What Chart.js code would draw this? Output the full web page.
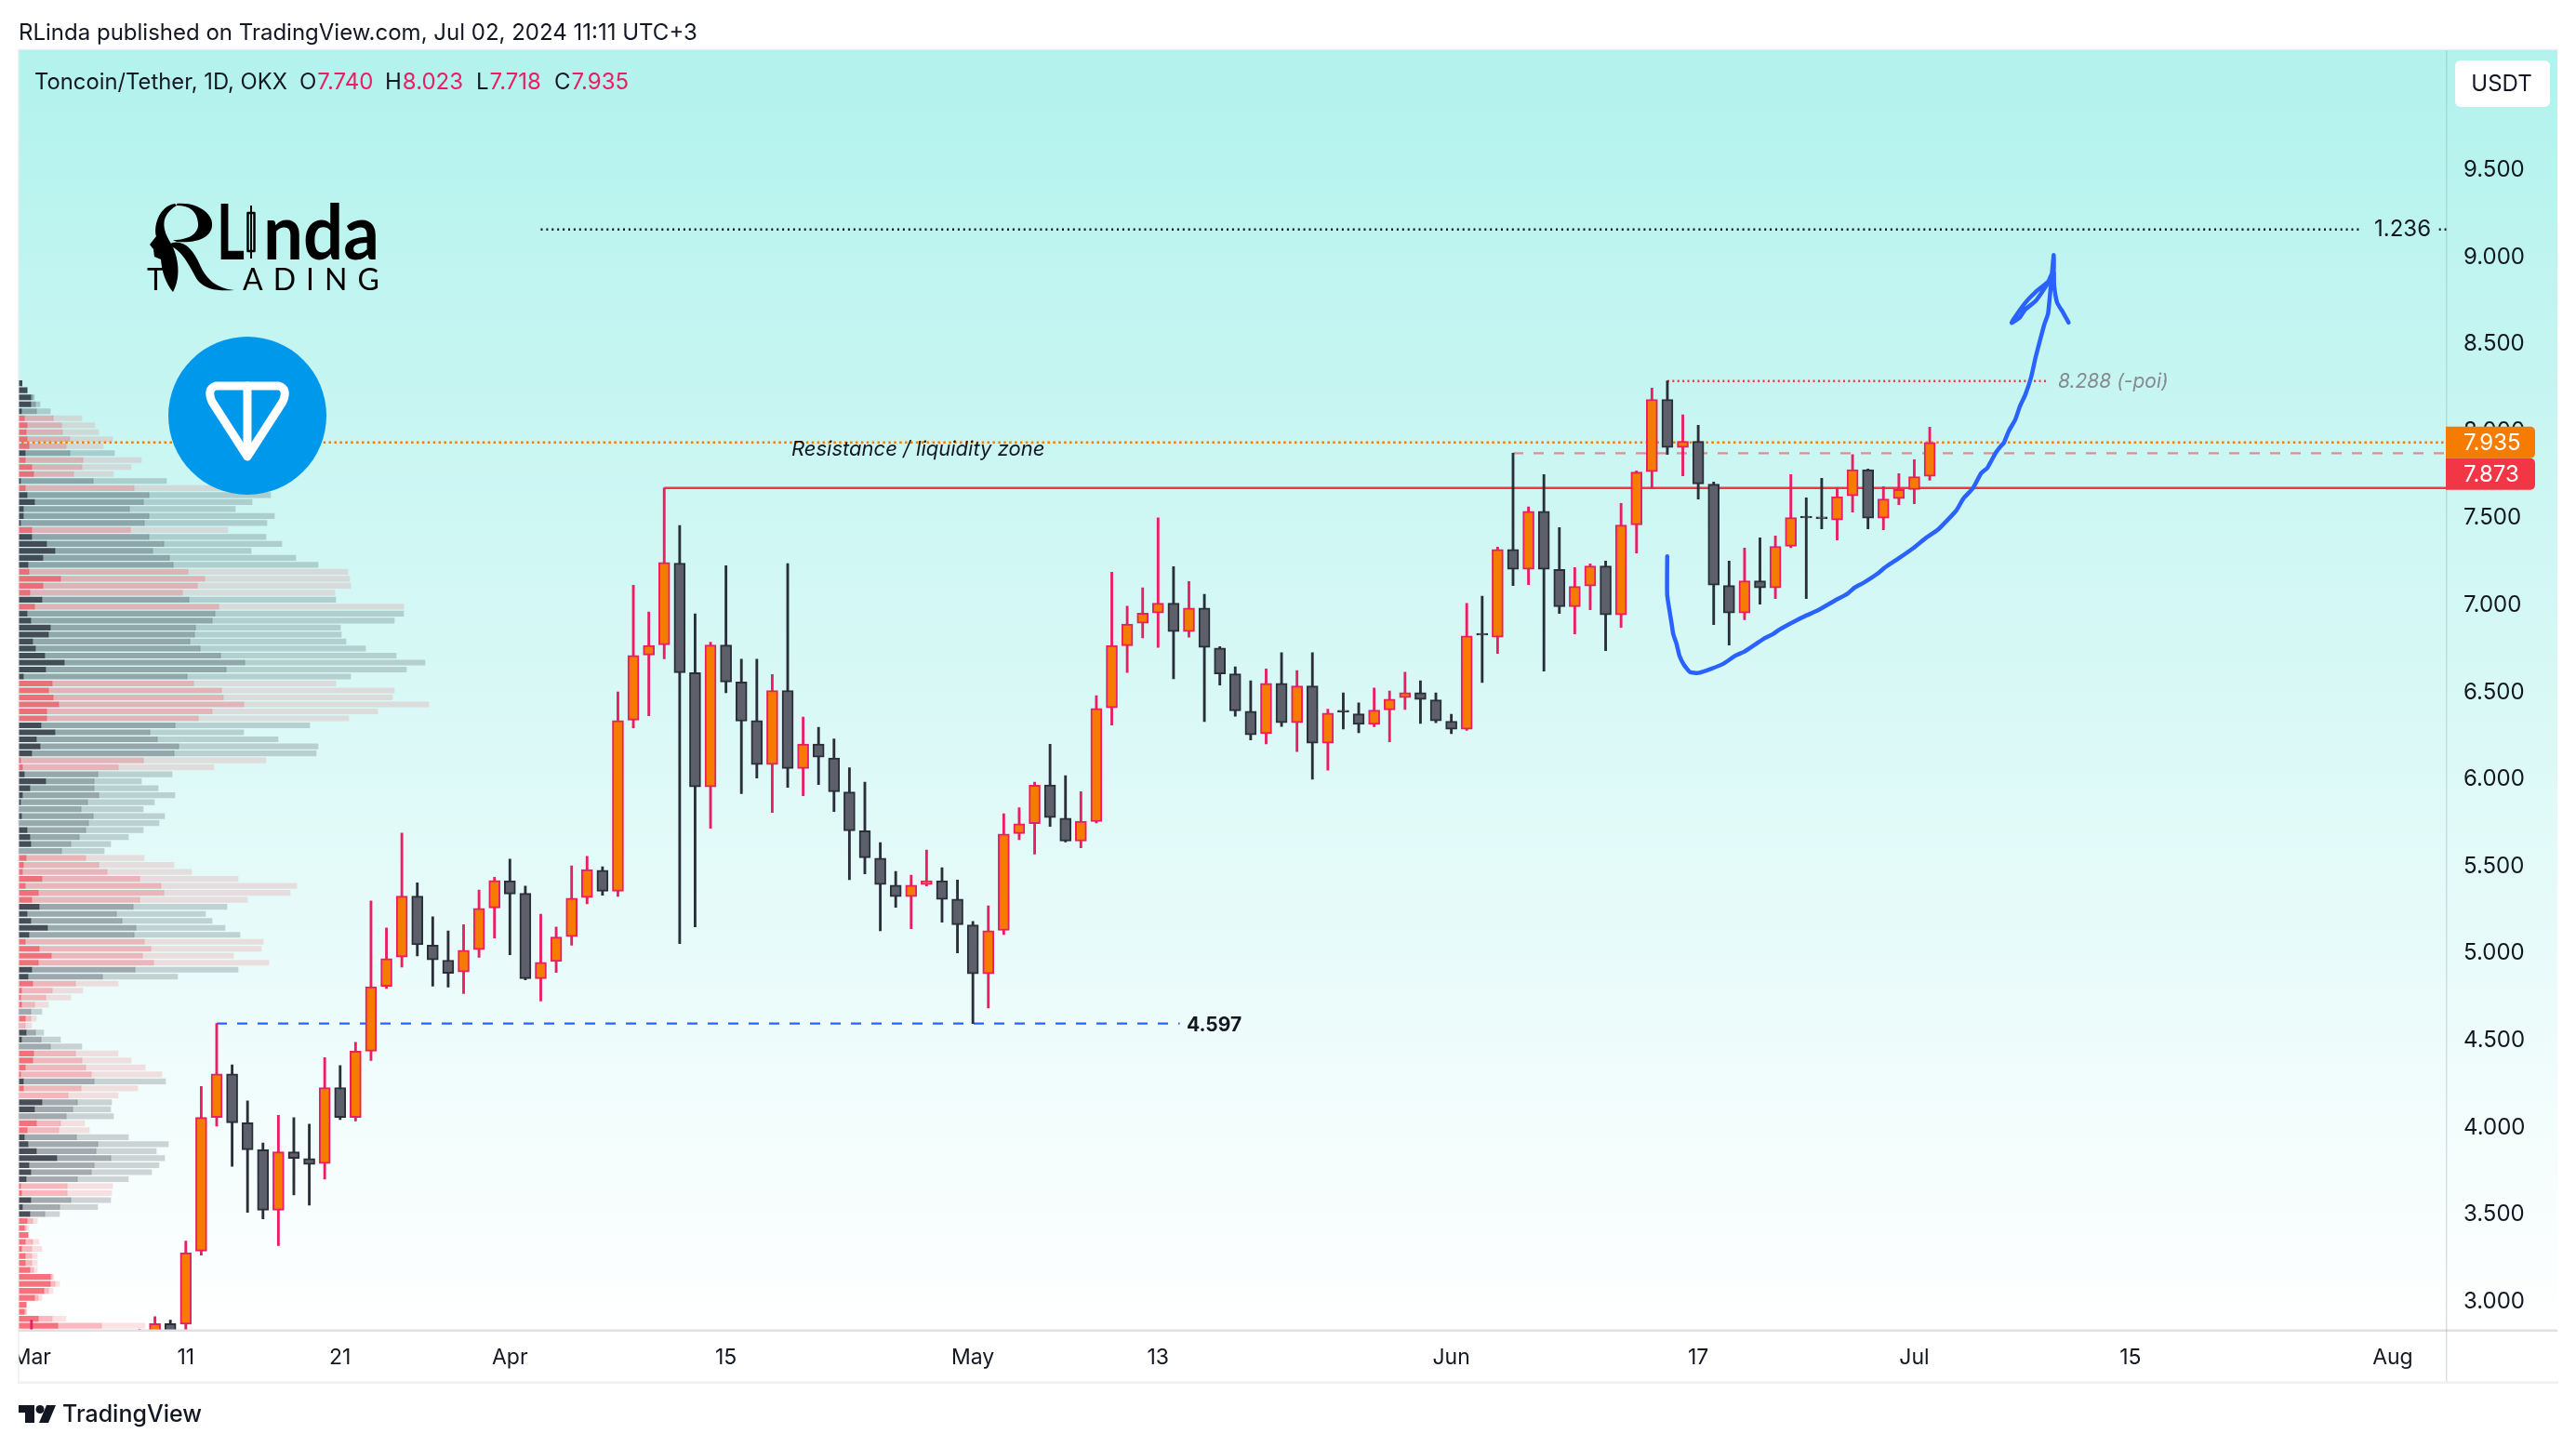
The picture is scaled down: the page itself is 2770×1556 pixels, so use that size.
<!DOCTYPE html>
<html><head><meta charset="utf-8">
<style>html,body{margin:0;padding:0;background:#fff}canvas{display:block}</style>
<script src="https://cdn.jsdelivr.net/npm/chart.js@4"></script>
</head><body>
<canvas id="c" width="2770" height="1556" style="width:2770px;height:1556px"></canvas>
<script>
const candleDates=['03-01','03-08','03-09','03-10','03-11','03-12','03-13','03-14','03-15','03-16','03-17','03-18','03-19','03-20','03-21','03-22','03-23','03-24','03-25','03-26','03-27','03-28','03-29','03-30','03-31',
'04-01','04-02','04-03','04-04','04-05','04-06','04-07','04-08','04-09','04-10','04-11','04-12','04-13','04-14','04-15','04-16','04-17','04-18','04-19','04-20','04-21','04-22','04-23','04-24','04-25','04-26','04-27','04-28','04-29','04-30',
'05-01','05-02','05-03','05-04','05-05','05-06','05-07','05-08','05-09','05-10','05-11','05-12','05-13','05-14','05-15','05-16','05-17','05-18','05-19','05-20','05-21','05-22','05-23','05-24','05-25','05-26','05-27','05-28','05-29','05-30','05-31',
'06-01','06-02','06-03','06-04','06-05','06-06','06-07','06-08','06-09','06-10','06-11','06-12','06-13','06-14','06-15','06-16','06-17','06-18','06-19','06-20','06-21','06-22','06-23','06-24','06-25','06-26','06-27','06-28','06-29','06-30','07-01','07-02'];
const opens=[2.6,2.6,2.8,2.873,2.87,3.29,4.058,4.308,4.027,3.872,3.525,3.86,3.822,3.793,4.229,4.058,4.438,4.811,4.979,5.329,5.047,4.961,4.893,5.022,5.261,
5.417,5.345,4.855,4.953,5.096,5.321,5.478,5.357,6.34,6.714,6.773,7.242,6.612,5.956,6.771,6.559,6.338,6.085,6.51,6.062,6.203,6.123,5.927,5.704,5.547,5.392,5.326,5.396,5.418,5.312,
5.163,4.883,5.132,5.688,5.745,5.968,5.776,5.645,5.757,6.41,6.767,6.896,6.955,7.012,6.849,6.984,6.754,6.606,6.391,6.262,6.551,6.325,6.536,6.207,6.386,6.376,6.315,6.399,6.469,6.498,6.456,
6.334,6.287,6.828,6.816,7.321,7.206,7.54,7.206,6.992,7.11,7.225,6.944,7.462,7.767,8.182,7.906,7.941,7.695,7.113,6.955,7.14,7.099,7.339,7.501,7.496,7.489,7.628,7.779,7.5,7.612,7.665,7.74];
const highs=[2.893,2.84,2.914,2.893,3.347,4.235,4.597,4.359,4.153,3.911,4.07,4.056,4.019,4.401,4.355,4.489,5.301,5.146,5.691,5.405,5.21,5.129,5.165,5.364,5.437,
5.541,5.386,5.225,5.151,5.503,5.557,5.498,6.502,7.115,6.961,7.673,7.458,6.951,6.788,7.227,6.69,6.69,6.602,7.239,6.358,6.299,6.232,6.066,5.984,5.637,5.471,5.449,5.594,5.492,5.422,
5.183,5.273,5.802,5.837,5.984,6.201,6.021,5.929,6.481,7.19,6.994,7.1,7.502,7.221,7.136,7.062,6.762,6.646,6.566,6.634,6.727,6.625,6.727,6.403,6.496,6.439,6.524,6.507,6.615,6.566,6.496,
6.374,7.01,7.052,7.334,7.873,7.565,7.751,7.446,7.216,7.238,7.254,7.585,7.772,8.247,8.288,8.094,8.034,7.708,7.254,7.329,7.387,7.398,7.751,7.617,7.729,7.674,7.865,7.783,7.681,7.756,7.836,8.023];
const lows=[2.55,2.55,2.78,2.77,2.8,3.267,4.008,3.777,3.513,3.475,3.321,3.612,3.554,3.703,4.045,4.037,4.384,4.799,4.922,4.986,4.812,4.806,4.769,4.977,5.088,
4.992,4.848,4.726,4.891,5.047,5.285,5.334,5.328,6.295,6.365,6.692,5.056,5.152,5.719,6.497,5.917,6.007,5.809,5.954,5.905,5.97,5.815,5.424,5.457,5.13,5.265,5.142,5.387,5.179,5.003,
4.597,4.686,5.109,5.653,5.571,5.729,5.64,5.606,5.75,6.311,6.614,6.813,6.758,6.577,6.817,6.332,6.541,6.363,6.226,6.203,6.304,6.16,6,6.053,6.289,6.268,6.302,6.215,6.401,6.321,6.325,
6.262,6.281,6.556,6.723,7.113,7.118,6.622,6.953,6.835,6.974,6.739,6.873,7.3,7.672,7.866,7.743,7.61,6.889,6.771,6.916,7.006,7.038,7.33,7.038,7.439,7.375,7.535,7.439,7.434,7.578,7.583,7.718];
const closes=[2.7,2.72,2.873,2.8,3.281,4.058,4.308,4.027,3.872,3.525,3.86,3.822,3.787,4.229,4.058,4.438,4.809,4.97,5.329,5.049,4.963,4.885,5.018,5.259,5.419,
5.341,4.855,4.949,5.094,5.317,5.482,5.357,6.338,6.712,6.769,7.246,6.612,5.956,6.771,6.559,6.334,6.085,6.51,6.062,6.203,6.127,5.929,5.704,5.549,5.396,5.326,5.392,5.418,5.31,5.165,
4.883,5.13,5.686,5.745,5.966,5.78,5.645,5.759,6.407,6.769,6.892,6.955,7.012,6.849,6.984,6.758,6.606,6.393,6.255,6.551,6.325,6.536,6.207,6.38,6.386,6.315,6.397,6.46,6.498,6.458,6.336,
6.287,6.824,6.828,7.321,7.206,7.54,7.206,6.992,7.108,7.225,6.944,7.46,7.765,8.182,7.906,7.941,7.697,7.115,6.955,7.14,7.099,7.338,7.503,7.501,7.496,7.624,7.779,7.5,7.61,7.665,7.738,7.935];

const vpSide='DDDDDRRRRRDRRRDRDDDDDRDDDDDRRRRDRDDDDDDDDDDRRRRRRDDDDDRRDDDDDDDDDDDDRRRRRRRDDDDDRRRRDDRRRRDRRDDDRRRRDRRDDDRRDDDDDDDRRDDDRRRRRRRRRRRRRRRR';
const vpInner=[11,27,39,39,9,18,27,24,27,33,21,21,42,48,6,21,27,51,15,15,6,42,42,90,117,78,30,33,135,78,36,75,51,27,39,102,96,45,54,84,147,87,15,108,96,111,129,90,90,72,117,57,69,42,6,12,18,87,36,12,6,0,9,0,27,36,39,0,24,15,12,75,21,63,42,66,27,39,93,33,21,66,105,63,42,30,45,9,6,9,0,21,0,24,9,0,48,45,21,6,15,15,0,75,51,0,57,27,18,30,57,123,33,39,24,6,9,39,12,36,27,18,30,21,9,21,21,36,102,102,81,51,24,18,63,126];
const vpMid=[11,27,45,54,57,111,138,141,165,153,165,207,204,177,240,372,420,402,357,420,405,360,420,468,432,486,498,546,600,576,528,549,645,633,624,570,567,552,585,651,729,669,543,564,654,660,726,624,579,504,423,447,516,501,402,321,255,243,243,258,222,201,240,225,216,195,168,138,216,258,285,390,459,468,390,369,315,333,378,372,405,426,399,435,375,270,183,108,87,51,39,39,21,54,72,102,183,204,216,234,243,201,159,189,174,153,135,129,186,255,249,297,243,234,189,156,156,168,132,84,45,24,30,45,42,42,42,48,108,117,96,63,24,24,108,267];
const vpOuter=[11,27,51,69,102,204,246,258,303,273,309,396,363,306,477,660,813,753,699,825,801,675,798,849,750,894,966,1062,1068,1071,1020,1023,1242,1242,1212,1038,1041,1056,1119,1218,1311,1251,1071,1023,1212,1206,1323,1158,1065,939,726,837,966,960,798,630,495,396,450,504,438,402,471,453,402,354,297,276,405,501,558,708,897,876,738,672,603,624,666,714,789,783,693,807,708,513,321,207,168,96,75,57,42,81,135,204,321,363,408,462,474,384,321,300,297,306,213,228,354,483,444,471,453,429,354,303,300,297,255,132,60,33,30,66,75,60,60,60,114,132,111,75,24,27,153,408];
const vpTopLevel=8.2746, vpBinSize=0.0401;

const resistance=7.673, lastClose=7.935, dashedLevel=7.873, poiLevel=8.288, fibLevel=9.158, lowLevel=4.597;
const penX=[105.99,105.99,106.27,106.38,106.61,106.78,107.08,107.47,108,108.81,109.61,110.42,111,112.27,112.84,113.3,114.23,115.03,115.72,116.88,117.68,118.15,118.72,119.65,120.11,121.03,121.95,122.76,123.57,124.72,125.18,125.8,126.33,126.73,127.26,127.6,127.8,128.13,128.54,128.84,129.19,129.58,129.87,130.41,130.67,131.03,131.03,130.7,129.87,129.19,128.39,128.31,128.84,129.19,129.87,130.61,131.03,131.06,131.26,131.65,132];
const penY=[7.281,7.058,6.898,6.835,6.773,6.711,6.657,6.616,6.611,6.634,6.663,6.711,6.734,6.809,6.834,6.862,6.907,6.942,6.969,7.028,7.067,7.102,7.129,7.183,7.218,7.272,7.329,7.387,7.437,7.544,7.613,7.672,7.758,7.788,7.873,7.913,7.932,8.002,8.065,8.142,8.208,8.313,8.428,8.609,8.676,9.01,8.924,8.861,8.8,8.737,8.638,8.622,8.653,8.699,8.748,8.844,8.924,8.838,8.737,8.68,8.624];

const xTickDays=[0,10,20,31,45,61,73,92,108,122,136,153];
const xTickLabels=['Mar','11','21','Apr','15','May','13','Jun','17','Jul','15','Aug'];
const yTickValues=[3,3.5,4,4.5,5,5.5,6,6.5,7,7.5,8,8.5,9,9.5];

const FONT='Inter, "Noto Sans", sans-serif';
const dayOf=s=>{const[m,d]=s.split('-').map(Number);return [0,0,0,0,31,61,92,122][m]+d-1;};
const days=candleDates.map(dayOf);
const isUp=closes.map((c,i)=>c>opens[i]);
const UP_F='#F57C00',UP_B='#E91E63',DN_F='#5D606B',DN_B='#2A2E39';

const bodies={type:'bar',order:2,grouped:false,barThickness:12,maxBarThickness:12,minBarLength:2,borderWidth:2,borderSkipped:false,
 data:days.map((d,i)=>({x:d,y:[opens[i],closes[i]]})),
 backgroundColor:isUp.map(u=>u?UP_F:DN_F),borderColor:isUp.map(u=>u?UP_B:DN_B)};
const wicks={type:'bar',order:3,grouped:false,barThickness:2.2,maxBarThickness:2.2,borderWidth:0,
 data:days.map((d,i)=>({x:d,y:[lows[i],highs[i]]})),
 backgroundColor:isUp.map(u=>u?UP_B:DN_B)};
const vpAlpha={R:['rgba(242,54,69,.7)','rgba(242,54,69,.35)','rgba(242,54,69,.15)'],D:['rgba(42,46,57,.85)','rgba(42,46,57,.4)','rgba(42,46,57,.2)']};
const levels=vpInner.map((_,i)=>vpTopLevel-vpBinSize*i);
const vpSet=(from,to,k)=>({type:'bar',indexAxis:'y',xAxisID:'xVP',yAxisID:'y',order:6,grouped:false,barThickness:5.5,maxBarThickness:5.5,borderWidth:0,
 data:levels.map((p,i)=>({y:p,x:[from?from[i]:0,to[i]]})),
 backgroundColor:levels.map((_,i)=>vpAlpha[vpSide[i]][k])});
const hline=(a,b,p,color,width,dash,order=4)=>({type:'scatter',order,showLine:true,pointRadius:0,borderColor:color,borderWidth:width,borderDash:dash,data:[{x:a,y:p},{x:b,y:p}]});
const END=156.5;
const datasets=[
 {type:'scatter',order:0,showLine:true,pointRadius:0,borderColor:'#2962FF',borderWidth:4.5,borderJoinStyle:'round',borderCapStyle:'round',tension:0.15,data:penX.map((x,i)=>({x,y:penY[i]}))},
 bodies,wicks,
 hline(-1,END,lastClose,'#F57C00',2.4,[2.5,3.4]),
 hline(96,END,dashedLevel,'rgba(242,54,69,.55)',2.4,[11,11]),
 hline(41,END,resistance,'#F23645',2.4,[]),
 hline(106,130.7,poiLevel,'#F23645',2.4,[2,3.4]),
 hline(138.2,138.3,poiLevel,'#F23645',2,[]),
 hline(33,151,fibLevel,'#131722',2.4,[2,3.9]),
 hline(156,END,fibLevel,'#131722',2.4,[2,3.9]),
 hline(12,74.4,lowLevel,'#2962FF',2.4,[11,11]),
 vpSet(null,vpInner,0),vpSet(vpInner,vpMid,1),vpSet(vpMid,vpOuter,2)
];

const L=20,R=2631,RE=2750,T=54,B=1430.5,TB=1485.5;
const decor={id:'decor',
 beforeDraw(c){const x=c.ctx;const g=x.createLinearGradient(0,T,0,B);g.addColorStop(0,'#B2F2ED');g.addColorStop(1,'#FFFFFF');
  x.save();x.fillStyle='#fff';x.fillRect(0,0,2770,1556);x.fillStyle=g;x.fillRect(L,T,RE-L,B-T);x.restore();},
 afterDraw(c){const x=c.ctx,y=c.scales.y;x.save();
  x.fillStyle='#fff';x.fillRect(0,B,L,TB-B+6);
  x.fillStyle='#EFEFF4';x.fillRect(L-1,T-1.5,RE-L+2,1.5);x.fillRect(L-1,T,1.5,TB-T);x.fillRect(L-1,TB,RE-L+2,2.5);
  x.fillStyle='#E0E0E0';x.fillRect(L,B-1,RE-L,2.5);
  x.fillStyle='rgba(120,150,150,.28)';x.fillRect(R-1,T,1.5,TB-T);
  x.textBaseline='middle';x.textAlign='left';x.fillStyle='#131722';x.font='24px '+FONT;
  x.fillText('RLinda published on TradingView.com, Jul 02, 2024 11:11 UTC+3',20,36);
  x.fillText('Toncoin/Tether, 1D, OKX',37,89,272);
  [['O','7.740',322],['H','8.023',414],['L','7.718',512],['C','7.935',596]].forEach(([k,v,a])=>{x.fillStyle='#131722';x.fillText(k,a,89);const w=x.measureText(k).width;x.fillStyle='#E91E63';x.fillText(v,a+w+1,89);});
  x.font='italic 22px '+FONT;x.fillStyle='#131722';x.fillText('Resistance / liquidity zone',851,483);
  x.font='italic 21px '+FONT;x.fillStyle='#868A90';x.fillText('8.288 (-poi)',2213,y.getPixelForValue(poiLevel)+1);
  x.font='bold 21px '+FONT;x.fillStyle='#131722';x.fillText('4.597',1276,y.getPixelForValue(lowLevel)+2);
  x.font='24px '+FONT;x.fillStyle='#131722';x.fillText('1.236',2553,y.getPixelForValue(fibLevel));
  x.fillStyle='#0098EA';x.beginPath();x.arc(266,447,85,0,Math.PI*2);x.fill();
  x.strokeStyle='#fff';x.lineWidth=9;x.lineJoin='round';x.lineCap='round';
  x.beginPath();x.moveTo(232,415);x.lineTo(300,415);x.quadraticCurveTo(310,418,304,432);x.lineTo(266,491);x.lineTo(228,432);x.quadraticCurveTo(222,418,232,415);x.closePath();x.stroke();
  x.beginPath();x.moveTo(266,415);x.lineTo(266,489);x.stroke();
  x.fillStyle='#000';x.strokeStyle='#000';
  // head silhouette and the drawn R of the brand mark
  x.beginPath();x.moveTo(188,219);x.bezierCurveTo(170,222,165,245,168,254);x.lineTo(161,263);x.lineTo(165,268);x.lineTo(166,276);x.lineTo(173,279);x.bezierCurveTo(174,292,178,304,186,314);x.bezierCurveTo(195,298,192,276,184,262);x.bezierCurveTo(174,246,172,232,190,221);x.closePath();x.fill();
  x.beginPath();x.moveTo(190,219);x.bezierCurveTo(215,217,230,232,228,243);x.bezierCurveTo(227,255,212,262,190,260);x.lineTo(186,258);x.bezierCurveTo(205,258,214,250,213,240);x.bezierCurveTo(212,228,205,221,190,221);x.closePath();x.fill();
  x.beginPath();x.moveTo(185,261);x.bezierCurveTo(198,258,208,268,215,285);x.bezierCurveTo(222,300,232,310,252,312);x.bezierCurveTo(235,313,222,312,213,302);x.bezierCurveTo(205,290,198,270,182,264);x.closePath();x.fill();
  x.textBaseline='alphabetic';
  x.font='bold 83px Lato';x.fillText('L',233,278.6,30);x.fillText('nda',283,278.6,125);
  x.fillRect(269,221,2,57);x.lineWidth=2.5;x.strokeRect(266.5,229,7,41);
  x.font='32px Lato';x.fillText('T',158,312);
  x.letterSpacing='11px';x.fillText('ADING',261,312);x.letterSpacing='0px';
  const ty=y.getPixelForValue(lastClose);
  const tag=(cy,col,txt)=>{x.fillStyle=col;x.beginPath();x.roundRect(R-1,cy-17,96,34,[0,5,5,0]);x.fill();x.fillStyle='#fff';x.font='24px '+FONT;x.textBaseline='middle';x.fillText(txt,2649,cy+1);};
  tag(ty,'#F57C00','7.935');tag(ty+34,'#F23645','7.873');
  x.fillStyle='#fff';x.beginPath();x.roundRect(2640,65,102,50,6);x.fill();x.fillStyle='#131722';x.font='24px '+FONT;x.textAlign='center';x.fillText('USDT',2690,91);x.textAlign='left';
  x.fillStyle='#131722';
  x.fillRect(20,1511,17,8);x.fillRect(27,1511,10,19);
  x.beginPath();x.arc(43,1515.5,4.5,0,Math.PI*2);x.fill();
  x.beginPath();x.moveTo(50,1511);x.lineTo(60,1511);x.lineTo(52,1530);x.lineTo(42,1530);x.closePath();x.fill();
  x.font='500 25px '+FONT;x.textBaseline='middle';x.fillText('TradingView',67,1521);
  x.restore();}
};

new Chart(document.getElementById('c'),{
 type:'bar',data:{datasets},plugins:[decor],
 options:{responsive:false,animation:false,devicePixelRatio:1,
  layout:{padding:{left:L,right:2770-RE,top:T,bottom:1556-TB}},
  plugins:{legend:{display:false},tooltip:{enabled:false}},
  scales:{
   x:{type:'linear',position:'bottom',offset:false,min:-0.8346,max:156.5,grid:{display:false,drawTicks:false},border:{display:false},
    afterBuildTicks:s=>{s.ticks=xTickDays.map(v=>({value:v}));},
    afterFit:s=>{s.height=TB-B;s.paddingLeft=0;s.paddingRight=0;},
    ticks:{autoSkip:false,maxRotation:0,minRotation:0,padding:16,color:'#131722',font:{family:FONT,size:23},callback:v=>xTickLabels[xTickDays.indexOf(v)]}},
   xVP:{type:'linear',display:false,min:0,max:7833,offset:false,grid:{display:false}},
   y:{type:'linear',position:'right',offset:false,min:2.835,max:10.188,grid:{display:false,drawTicks:false},border:{display:false},
    afterBuildTicks:s=>{s.ticks=yTickValues.map(v=>({value:v}));},
    afterFit:s=>{s.width=RE-R;s.paddingTop=0;s.paddingBottom=0;},
    ticks:{padding:18,color:'#131722',font:{family:FONT,size:24},callback:v=>v.toFixed(3)}}
  }}
});
</script></body></html>
